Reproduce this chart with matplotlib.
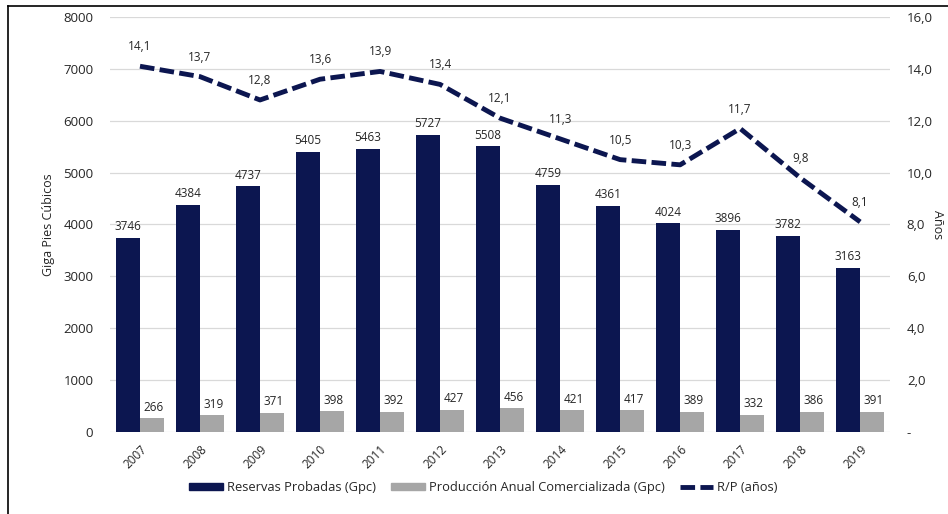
import matplotlib
matplotlib.use("Agg")
import matplotlib.pyplot as plt
import numpy as np
from matplotlib.lines import Line2D

plt.rcParams['font.family'] = ['Open Sans', 'DejaVu Sans']

years = ["2007", "2008", "2009", "2010", "2011", "2012", "2013",
         "2014", "2015", "2016", "2017", "2018", "2019"]
reservas = [3746, 4384, 4737, 5405, 5463, 5727, 5508, 4759, 4361, 4024, 3896, 3782, 3163]
produccion = [266, 319, 371, 398, 392, 427, 456, 421, 417, 389, 332, 386, 391]
rp = [14.1, 13.7, 12.8, 13.6, 13.9, 13.4, 12.1, 11.3, 10.5, 10.3, 11.7, 9.8, 8.1]
left_ticks = [0, 1000, 2000, 3000, 4000, 5000, 6000, 7000, 8000]
right_ticks = [0, 2, 4, 6, 8, 10, 12, 14, 16]
right_ticklabels = ["-", "2,0", "4,0", "6,0", "8,0", "10,0", "12,0", "14,0", "16,0"]

navy = "#0c1650"
grey = "#a6a6a6"
txt = "#262626"
dash = (0, (3.0, 1.1))

fig = plt.figure(figsize=(9.48, 5.14), dpi=100)
ax = fig.add_axes([0.116, 0.1595, 0.823, 0.8075])
ax2 = ax.twinx()

x = np.arange(len(years))
w = 0.4
ax.bar(x - w / 2, reservas, w, color=navy, zorder=2)
ax.bar(x + w / 2, produccion, w, color=grey, zorder=2)

for xi, v in zip(x, reservas):
    ax.text(xi - w / 2, v + 90, str(v), ha="center", va="bottom", fontsize=8.5, color=txt)
for xi, v in zip(x, produccion):
    ax.text(xi + w / 2 + 0.03, v + 90, str(v), ha="center", va="bottom", fontsize=8.5, color=txt)

ax.set_xlim(-0.5, len(years) - 0.5)
ax.set_ylim(0, 8000)
ax.set_yticks(left_ticks)
ax.set_yticklabels([str(t) for t in left_ticks], fontsize=9.5, color=txt)
ax.set_xticks(x)
ax.set_xticklabels(years, rotation=45, ha="right", rotation_mode="anchor", fontsize=8.5, color=txt)
ax.tick_params(axis="both", length=0)
ax.tick_params(axis="y", pad=12)
ax.tick_params(axis="x", pad=8)
ax.grid(axis="y", color="#d9d9d9", linewidth=0.9, zorder=0)
ax.set_axisbelow(True)
for s in ax.spines.values():
    s.set_visible(False)
ax.set_ylabel("Giga Pies Cúbicos", fontsize=9, color=txt, labelpad=6)

ax2.plot(x, rp, color=navy, linewidth=3.5, linestyle=dash, zorder=3)
for xi, v in zip(x, rp):
    ax2.text(xi, v + 0.5, f"{v:.1f}".replace(".", ","), ha="center", va="bottom",
             fontsize=8.5, color=txt)
ax2.set_ylim(0, 16)
ax2.set_yticks(right_ticks)
ax2.set_yticklabels(right_ticklabels, fontsize=9.5, color=txt)
ax2.tick_params(axis="y", length=0, pad=12)
for s in ax2.spines.values():
    s.set_visible(False)
ax2.set_ylabel("Años", fontsize=9, color=txt, rotation=-90, labelpad=8)

handles = [
    plt.Rectangle((0, 0), 1, 1, color=navy),
    plt.Rectangle((0, 0), 1, 1, color=grey),
    Line2D([0], [0], color=navy, linewidth=3.5, linestyle=dash),
]
labels = ["Reservas Probadas (Gpc)", "Producción Anual Comercializada (Gpc)", "R/P (años)"]
fig.legend(handles, labels, loc="center", bbox_to_anchor=(0.51, 0.052), ncol=3,
           frameon=False, fontsize=9.3, handlelength=2.6, handleheight=0.5,
           columnspacing=1.2, handletextpad=0.3, labelcolor=txt)

# frame lines along the top and left edges of the figure
fig.add_artist(Line2D([8 / 948, 1.0], [1 - 6 / 514, 1 - 6 / 514], transform=fig.transFigure,
                      color="black", linewidth=1.2))
fig.add_artist(Line2D([8 / 948, 8 / 948], [0, 1 - 6 / 514], transform=fig.transFigure,
                      color="black", linewidth=1.2))

fig.savefig("out.png", dpi=100)
